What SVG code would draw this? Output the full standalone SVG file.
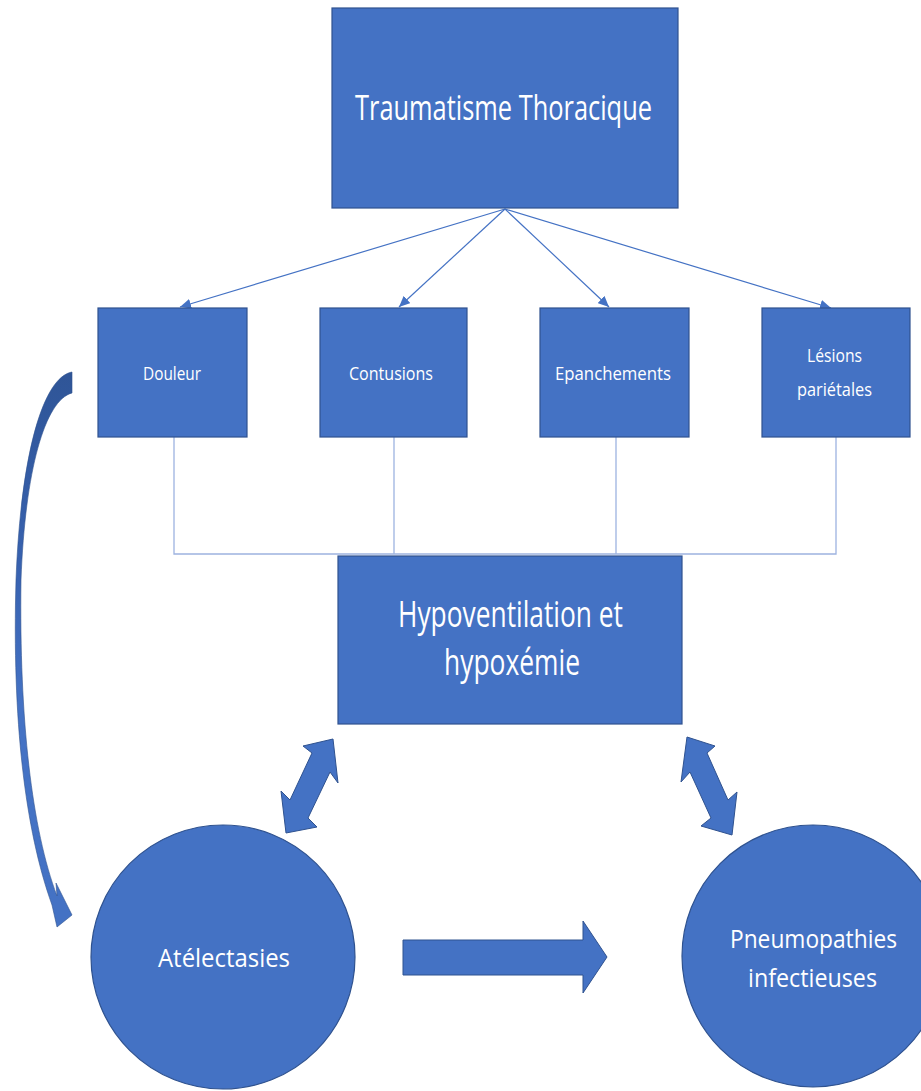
<svg xmlns="http://www.w3.org/2000/svg" width="921" height="1091" viewBox="0 0 921 1091">
<defs>
<style>
.box{fill:#4472C4;stroke:#2F528F;stroke-width:1.2}
.shp{fill:#4472C4;stroke:#2F528F;stroke-width:1}
.t{fill:#FFFFFF;font-family:"Open Sans","Liberation Sans",sans-serif;text-anchor:middle}
.arr{stroke:#4472C4;stroke-width:1.2;fill:none}
.lnk{stroke:#9DB3E0;stroke-width:1.3;fill:none}
</style>
<marker id="ah" markerWidth="12" markerHeight="10" refX="11" refY="5" orient="auto" markerUnits="userSpaceOnUse">
<path d="M0,0 L11,5 L0,10 Z" fill="#4472C4"/>
</marker>
<linearGradient id="cg" x1="0" y1="372" x2="0" y2="927" gradientUnits="userSpaceOnUse">
<stop offset="0" stop-color="#2F5597"/>
<stop offset="0.35" stop-color="#3862B0"/>
<stop offset="0.6" stop-color="#4472C4"/>
<stop offset="1" stop-color="#4472C4"/>
</linearGradient>
</defs>

<g id="connectors">
<line class="arr" x1="505" y1="209" x2="180" y2="307" marker-end="url(#ah)"/>
<line class="arr" x1="505" y1="209" x2="399" y2="307" marker-end="url(#ah)"/>
<line class="arr" x1="505" y1="209" x2="609" y2="307" marker-end="url(#ah)"/>
<line class="arr" x1="505" y1="209" x2="831" y2="308" marker-end="url(#ah)"/>
<polyline class="lnk" points="174,437 174,554 836,554 836,437"/>
<line class="lnk" x1="394" y1="437" x2="394" y2="554"/>
<line class="lnk" x1="616" y1="437" x2="616" y2="554"/>
<path id="curved-arrow" d="M72,372 C44,377 21,450 16,580 C12,720 25,830 52,905 L57,927 L72,915 L56,883 L57,896 C32,830 19,720 21,580 C25,470 45,400 72,393 Z" fill="url(#cg)" stroke="#2F528F" stroke-width="0.6"/>
<polygon id="dbl-left" class="shp" points="333,739 338,783 330,772 308,818 317,827 286,833 281,791 290,800 312,753 303,746"/>
<polygon id="dbl-right" class="shp" points="687,737 715,746 707,753 728,800 737,792 732,835 701,826 711,818 690,772 681,782"/>
<polygon id="block-arrow" class="shp" points="403,940 583,940 583,921 607,957 583,993 583,975 403,975"/>
</g>

<g id="traumatisme">
<rect class="box" x="332" y="8" width="346" height="200"/>
<text class="t" x="503.5" y="120" font-size="35" textLength="297" lengthAdjust="spacingAndGlyphs">Traumatisme Thoracique</text>
</g>
<g id="douleur">
<rect class="box" x="98" y="308" width="149" height="129"/>
<text class="t" x="172" y="380" font-size="19" textLength="58" lengthAdjust="spacingAndGlyphs">Douleur</text>
</g>
<g id="contusions">
<rect class="box" x="320" y="308" width="147" height="129"/>
<text class="t" x="391" y="380" font-size="19" textLength="84" lengthAdjust="spacingAndGlyphs">Contusions</text>
</g>
<g id="epanchements">
<rect class="box" x="540" y="308" width="149" height="129"/>
<text class="t" x="613" y="380" font-size="19" textLength="116" lengthAdjust="spacingAndGlyphs">Epanchements</text>
</g>
<g id="lesions">
<rect class="box" x="762" y="308" width="148" height="129"/>
<text class="t" x="834.5" y="362" font-size="19" textLength="55" lengthAdjust="spacingAndGlyphs">Lésions</text>
<text class="t" x="834.5" y="396" font-size="19" textLength="75" lengthAdjust="spacingAndGlyphs">pariétales</text>
</g>
<g id="hypoventilation">
<rect class="box" x="338" y="556" width="344" height="168"/>
<text class="t" x="510.5" y="627" font-size="36" textLength="225" lengthAdjust="spacingAndGlyphs">Hypoventilation et</text>
<text class="t" x="512" y="675" font-size="36" textLength="136" lengthAdjust="spacingAndGlyphs">hypoxémie</text>
</g>
<g id="atelectasies">
<circle class="box" cx="223" cy="957" r="132"/>
<text class="t" x="224" y="967" font-size="25" textLength="132" lengthAdjust="spacingAndGlyphs">Atélectasies</text>
</g>
<g id="pneumopathies">
<circle class="box" cx="813" cy="956" r="131"/>
<text class="t" x="813.5" y="948" font-size="26" textLength="167" lengthAdjust="spacingAndGlyphs">Pneumopathies</text>
<text class="t" x="812.5" y="987" font-size="26" textLength="129" lengthAdjust="spacingAndGlyphs">infectieuses</text>
</g>
</svg>
